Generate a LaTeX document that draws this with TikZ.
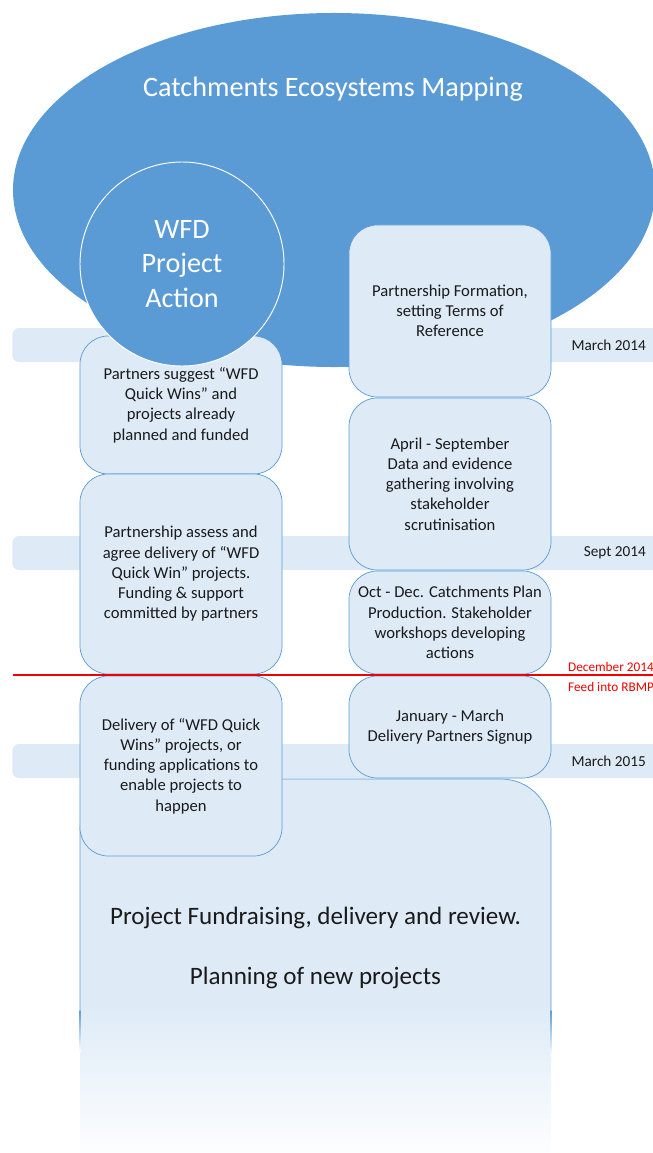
\documentclass[tikz,border=0pt]{standalone}
\usepackage{fontspec}
\setmainfont{Carlito}
\usetikzlibrary{shapes.geometric, positioning}
\definecolor{mapblue}{HTML}{5B9BD5}
\definecolor{boxfill}{HTML}{DEEBF7}
\definecolor{bandfill}{HTML}{DEEAF6}
\definecolor{inktext}{HTML}{1A1A1A}
\definecolor{datered}{HTML}{F00000}
\pgfdeclareverticalshading{fillfade}{100bp}{color(0bp)=(white); color(35bp)=(white!95!boxfill); color(51bp)=(boxfill); color(100bp)=(boxfill)}
\pgfdeclareverticalshading{edgefade}{100bp}{color(0bp)=(white); color(25bp)=(white); color(75bp)=(mapblue); color(100bp)=(mapblue)}

\begin{document}
\begin{tikzpicture}[
  x=0.03cm, y=-0.03cm,
  every node/.style={align=center, text=inktext, font=\fontsize{14.2}{17.3}\selectfont},
  band/.style={rectangle, fill=bandfill, rounded corners=0.2cm, minimum width=19.71cm, minimum height=1.02cm, inner sep=0pt},
  datelabel/.style={anchor=east, inner sep=0pt, font=\fontsize{13}{15}\selectfont},
  stagebox/.style={rectangle, draw=mapblue, fill=boxfill, rounded corners=0.85cm, minimum width=6.06cm, inner sep=1pt, line width=0.6pt},
  redlabel/.style={anchor=west, inner sep=0pt, text=datered, font=\fontsize{11.3}{13}\selectfont},
  bigtext/.style={text=white, font=\fontsize{24}{29.3}\selectfont}
]
\useasboundingbox (0,0) rectangle (653,1153);

\node (band1) [band] at (341,345) {};
\node (band2) [band] at (341,553) {};
\node (band3) [band] at (341,761) {};
\node (march14) [datelabel] at (646,345) {March 2014};
\node (sept14) [datelabel] at (646,553) {Sept 2014};
\node (march15) [datelabel] at (646,761) {March 2015};

\node (mapping) [ellipse, fill=mapblue, minimum width=19.26cm, minimum height=10.62cm, inner sep=0pt] at (334,190) {};
\node (maptitle) [bigtext] at (333,89) {Catchments Ecosystems Mapping};

% fading review box
\shade[shading=fillfade, rounded corners=1.5cm] (80,779) rectangle (551,1250);
\draw[mapblue, line width=0.6pt, rounded corners=1.5cm] (80,1012) -- (80,779) -- (551,779) -- (551,1012);
\shade[shading=edgefade] (79.6,1010) rectangle (80.4,1052);
\shade[shading=edgefade] (550.6,1010) rectangle (551.4,1056);
\node (fundtext) [font=\fontsize{21.4}{25.7}\selectfont] at (315.5,948) {Project Fundraising, delivery and review.\\[25.7pt]Planning of new projects};

\node (suggest) [stagebox, minimum height=4.14cm] at (181,405) {Partners suggest “WFD\\Quick Wins” and\\projects already\\planned and funded};
\node (assess) [stagebox, minimum height=6cm] at (181,574) {Partnership assess and\\agree delivery of “WFD\\Quick Win” projects.\\Funding \& support\\committed by partners};
\node (delivery) [stagebox, minimum height=5.4cm] at (181,766) {Delivery of “WFD Quick\\Wins” projects, or\\funding applications to\\enable projects to\\happen};

\node (formation) [stagebox, minimum height=5.16cm] at (450,311) {Partnership Formation,\\setting Terms of\\Reference};
\node (evidence) [stagebox, minimum height=5.16cm] at (450,484) {April - September\\Data and evidence\\gathering involving\\stakeholder\\scrutinisation};
\node (plan) [stagebox, minimum height=3.09cm] at (450,622.5) {Oct - Dec. Catchments Plan\\Production. Stakeholder\\workshops developing\\actions};
\node (signup) [stagebox, minimum height=3.06cm] at (450,727) {January - March\\Delivery Partners Signup};

\node (wfd) [circle, fill=mapblue, draw=white, line width=0.8pt, minimum size=6.12cm, bigtext] at (182,264) {WFD\\Project\\Action};

\coordinate (decstart) at (13,675);
\coordinate (decend) at (653,675);
\draw[draw=datered, line width=0.9pt] (decstart) -- (decend);
\node (december) [redlabel] at (568,667) {December 2014};
\node (rbmp) [redlabel] at (568,687) {Feed into RBMP};

\end{tikzpicture}
\end{document}
